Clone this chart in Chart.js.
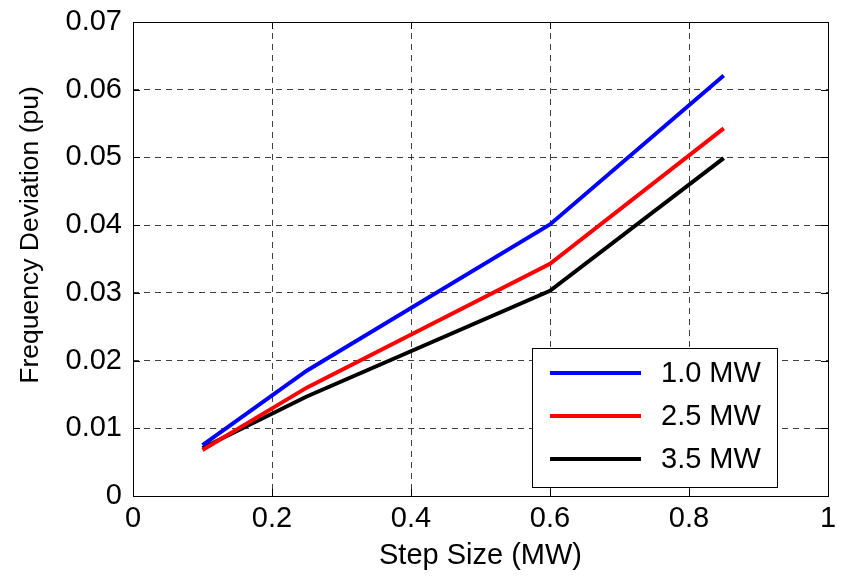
<!DOCTYPE html>
<html><head><meta charset="utf-8">
<script src="https://cdn.jsdelivr.net/npm/chart.js@4/dist/chart.umd.min.js"></script>
<style>html,body{margin:0;padding:0;background:#fff}#wrap{width:845px;height:577px}</style>
</head><body><div id="wrap"><canvas id="c" width="845" height="577"></canvas></div>
<script>
const stepSizes = [0.1, 0.25, 0.6, 0.85];
const seriesNames = ['1.0 MW', '2.5 MW', '3.5 MW'];
const dev1 = [0.0075, 0.0185, 0.0401, 0.0621];
const dev25 = [0.0068, 0.0160, 0.0343, 0.0543];
const dev35 = [0.0071, 0.0147, 0.0303, 0.0499];
const seriesColors = ['#0000ff', '#ff0000', '#000000'];
const xTicks = [0, 0.2, 0.4, 0.6, 0.8, 1];
const yTicks = [0, 0.01, 0.02, 0.03, 0.04, 0.05, 0.06, 0.07];
const yTitle = 'Frequency Deviation (pu)';

const FONT = '"Liberation Sans", Arial, sans-serif';
const mk = (vals) => stepSizes.map((x, i) => ({x, y: vals[i]}));
const datasets = [dev1, dev25, dev35].map((v, i) => ({
  label: seriesNames[i], data: mk(v), borderColor: seriesColors[i],
  backgroundColor: seriesColors[i], borderWidth: 4, pointRadius: 0, tension: 0, fill: false
}));

const framePlugin = {
  id: 'frame',
  afterDatasetsDraw(chart) {
    const {ctx, chartArea: a, scales: {x, y}} = chart;
    ctx.save();
    ctx.strokeStyle = '#000'; ctx.lineWidth = 1;
    ctx.strokeRect(a.left + 0.5, a.top + 0.5, a.right - a.left, a.bottom - a.top);
    const t = 7;
    ctx.beginPath();
    xTicks.forEach(v => { const px = Math.round(x.getPixelForValue(v)) + 0.5;
      ctx.moveTo(px, a.bottom); ctx.lineTo(px, a.bottom - t);
      ctx.moveTo(px, a.top); ctx.lineTo(px, a.top + t); });
    yTicks.forEach(v => { const py = Math.round(y.getPixelForValue(v)) + 0.5;
      ctx.moveTo(a.left, py); ctx.lineTo(a.left + t, py);
      ctx.moveTo(a.right, py); ctx.lineTo(a.right - t, py); });
    ctx.stroke();
    // y title
    ctx.save();
    ctx.translate(31, 235); ctx.rotate(-Math.PI / 2);
    ctx.font = '26.5px ' + FONT; ctx.fillStyle = '#000';
    ctx.textAlign = 'center'; ctx.textBaseline = 'middle';
    ctx.fillText(yTitle, 0, 0);
    ctx.restore();
    // legend box
    const bx = 532, by = 348, bw = 245, bh = 139;
    ctx.fillStyle = '#fff'; ctx.fillRect(bx, by, bw, bh);
    ctx.strokeRect(bx + 0.5, by + 0.5, bw, bh);
    ctx.font = '29px ' + FONT; ctx.textBaseline = 'middle'; ctx.textAlign = 'left';
    chart.data.datasets.forEach((ds, i) => {
      const ly = by + 25 + i * 43;
      ctx.strokeStyle = ds.borderColor; ctx.lineWidth = 4;
      ctx.beginPath(); ctx.moveTo(bx + 18, ly); ctx.lineTo(bx + 109, ly); ctx.stroke();
      ctx.fillStyle = '#000'; ctx.fillText(ds.label, bx + 129, ly + 1);
    });
    ctx.restore();
  }
};

const fmt = v => String(Number(v.toFixed(2)));
new Chart(document.getElementById('c'), {
  type: 'line',
  data: { datasets },
  options: {
    responsive: false, animation: false,
    layout: { padding: { top: 22, right: 17, left: 0, bottom: 0 } },
    plugins: { legend: { display: false }, tooltip: { enabled: false } },
    scales: {
      x: {
        type: 'linear', min: 0, max: 1,
        afterBuildTicks: s => { s.ticks = xTicks.map(v => ({value: v})); },
        afterFit: s => { s.height = 81; },
        grid: { color: 'rgba(0,0,0,0.75)', lineWidth: 1, drawTicks: false, tickLength: 0 },
        border: { display: false, dash: [6, 5] },
        ticks: { color: '#000', font: { family: FONT, size: 29 }, padding: 6, maxRotation: 0, callback: fmt },
        title: { display: true, text: 'Step Size (MW)', color: '#000', font: { family: FONT, size: 29 }, padding: { top: 0, bottom: 4 } }
      },
      y: {
        type: 'linear', min: 0, max: 0.07,
        afterBuildTicks: s => { s.ticks = yTicks.map(v => ({value: v})); },
        afterFit: s => { s.width = 133; s.paddingTop = 0; s.paddingBottom = 0; },
        grid: { color: 'rgba(0,0,0,0.75)', lineWidth: 1, drawTicks: false, tickLength: 0 },
        border: { display: false, dash: [6, 5] },
        ticks: { color: '#000', font: { family: FONT, size: 29, lineHeight: 1 }, padding: 11, callback: fmt },
        title: { display: false }
      }
    }
  },
  plugins: [framePlugin]
});
</script></body></html>
